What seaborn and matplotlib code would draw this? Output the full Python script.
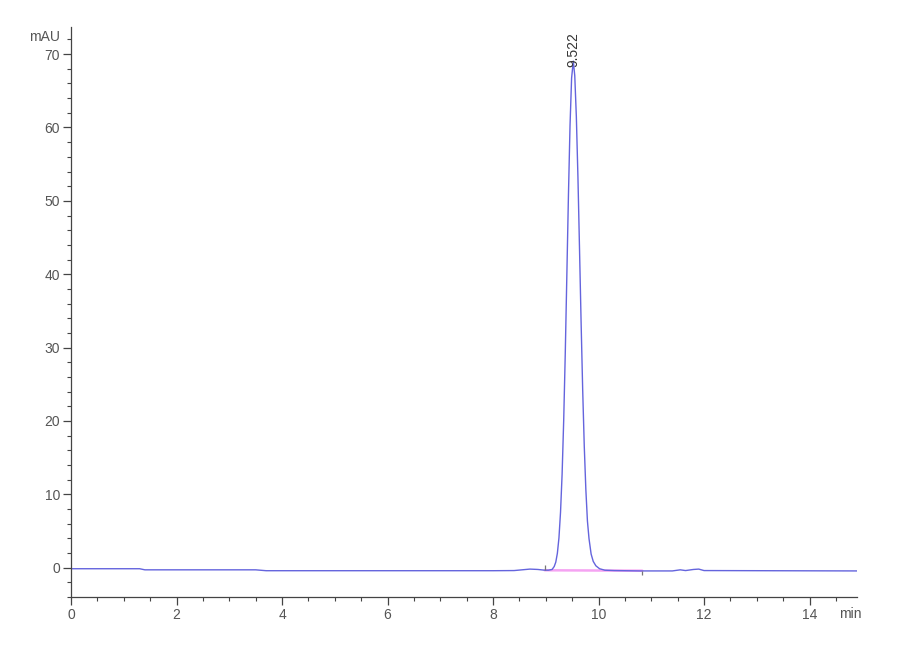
import numpy as np
import pandas as pd
import matplotlib
matplotlib.use("Agg")
import matplotlib.pyplot as plt
import seaborn as sns
from matplotlib.ticker import MultipleLocator

# ==========================================================
# DATA
# ==========================================================
time_min = [
    0.0, 1.30, 1.40, 3.50, 3.70, 8.00, 8.40, 8.55, 8.70, 8.85, 8.98, 9.05,
    9.12, 9.16, 9.19, 9.22, 9.25, 9.28, 9.31, 9.34, 9.37, 9.40, 9.43, 9.46,
    9.49, 9.522, 9.55, 9.58, 9.61, 9.64, 9.67, 9.70, 9.73, 9.76, 9.79, 9.82,
    9.86, 9.90, 9.95, 10.02, 10.12, 10.30, 10.80, 11.40, 11.55, 11.65, 11.80,
    11.90, 12.00, 14.90,
]
signal_mau = [
    -0.15, -0.15, -0.30, -0.30, -0.42, -0.42, -0.40, -0.30, -0.20, -0.25,
    -0.35, -0.35,
    -0.25, 0.15, 0.75, 1.95, 4.05, 7.55, 12.75, 20.05, 29.25, 39.95, 50.75,
    60.25, 66.75, 69.05, 67.05, 61.45, 53.25, 43.45, 33.45, 24.25, 16.55,
    10.65, 6.35, 3.95, 1.85, 0.85, 0.25, -0.15, -0.35, -0.40, -0.45, -0.45,
    -0.30, -0.40, -0.25, -0.20, -0.40, -0.45,
]

# integration baseline (pink) and its start/end markers
baseline_t = [8.98, 10.83]
baseline_y = [-0.36, -0.42]
marker_t = [8.98, 10.83]
marker_y0 = [-0.36, -0.42]
marker_y1 = [0.35, -1.0]

peak_rt = 9.522
peak_height = 69.05

df = pd.DataFrame({"time": time_min, "signal": signal_mau})

# ==========================================================
# STYLE
# ==========================================================
sns.set_theme(style="ticks")
plt.rcParams["font.family"] = ["Liberation Sans Narrow", "Liberation Sans", "DejaVu Sans"]

fig = plt.figure(figsize=(9, 6.6), dpi=100)
ax = fig.add_axes([0.0789, 0.0955, 0.8733, 0.8636])

ax.plot(baseline_t, baseline_y, color="#f5a3f2", linewidth=1.8, zorder=1)
sns.lineplot(data=df, x="time", y="signal", ax=ax, color="#6464dd",
             linewidth=1.0, zorder=2)
ax.vlines(marker_t, marker_y0, marker_y1, color="#777777", linewidth=0.9)

ax.text(peak_rt, peak_height - 0.8, f"{peak_rt:.3f}", rotation=90,
        ha="center", va="bottom", fontsize=10, color="#333333")

# axes
ax.set_xlim(0, 14.9)
ax.set_ylim(-4, 73.7)
ax.xaxis.set_major_locator(MultipleLocator(2))
ax.xaxis.set_minor_locator(MultipleLocator(0.5))
ax.yaxis.set_major_locator(MultipleLocator(10))
ax.yaxis.set_minor_locator(MultipleLocator(2))
ax.set_xlabel("")
ax.set_ylabel("")

for side in ["top", "right"]:
    ax.spines[side].set_visible(False)
for side in ["left", "bottom"]:
    ax.spines[side].set_color("#444444")
    ax.spines[side].set_linewidth(0.9)

ax.tick_params(which="major", length=6, width=0.9, color="#444444",
               labelsize=10, labelcolor="#555555", pad=2)
ax.tick_params(which="minor", length=3, width=0.8, color="#444444")

ax.annotate("mAU", xy=(0, 72.4), xycoords=("axes fraction", "data"),
            xytext=(-8, 0), textcoords="offset points",
            ha="right", va="center", fontsize=10, color="#555555")
ax.annotate("min", xy=(14.78, 0), xycoords=("data", "axes fraction"),
            xytext=(0, -7), textcoords="offset points",
            ha="center", va="top", fontsize=10, color="#555555")

fig.savefig("out.png", dpi=100)
